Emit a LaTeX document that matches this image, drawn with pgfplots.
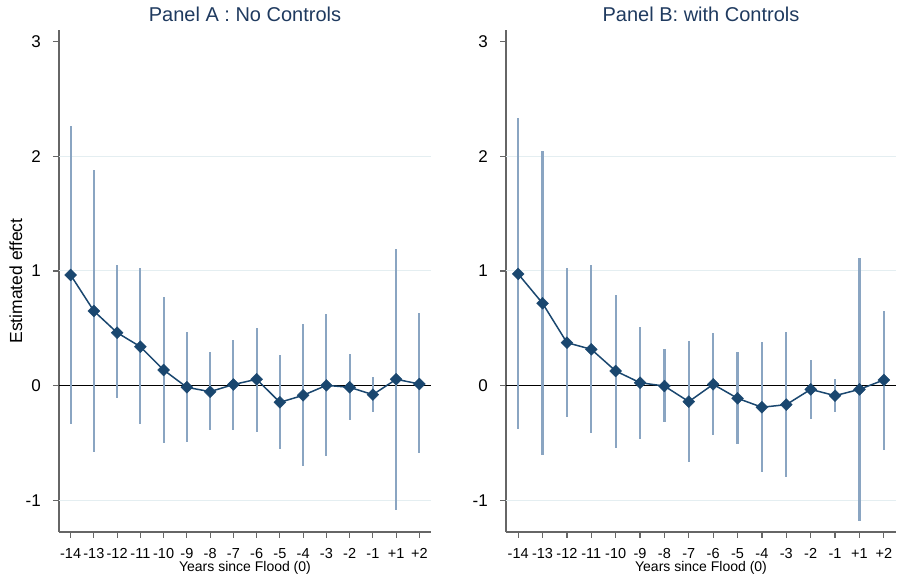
\documentclass[border=0pt]{standalone}
\usepackage{pgfplots}
\pgfplotsset{compat=1.18}
\usepackage{pgfplotstable}
\usepackage{fontspec}
\setmainfont{Liberation Sans}
\definecolor{navy}{HTML}{1A476F}
\definecolor{ciblue}{HTML}{8AA5C2}
\definecolor{gridc}{HTML}{E4EEF1}
\definecolor{axisgray}{HTML}{666666}
\definecolor{titlec}{HTML}{1F3A5F}
\tikzset{gridl/.style={draw=gridc, line width=1pt}}

\pgfplotstableread{
x y lo hi
0 0.965 -0.33 2.26
1 0.651 -0.575 1.88
2 0.462 -0.11 1.05
3 0.34 -0.337 1.03
4 0.137 -0.50 0.776
5 -0.014 -0.49 0.471
6 -0.052 -0.39 0.29
7 0.01 -0.386 0.40
8 0.056 -0.40 0.506
9 -0.145 -0.555 0.268
10 -0.084 -0.697 0.538
11 0.003 -0.613 0.622
12 -0.014 -0.30 0.276
13 -0.078 -0.23 0.073
14 0.056 -1.084 1.195
15 0.015 -0.59 0.63
}\dataA

\pgfplotstableread{
x y lo hi
0 0.974 -0.378 2.33
1 0.718 -0.604 2.046
2 0.375 -0.27 1.023
3 0.317 -0.41 1.052
4 0.128 -0.546 0.79
5 0.026 -0.465 0.515
6 -0.003 -0.32 0.32
7 -0.139 -0.668 0.39
8 0.012 -0.43 0.457
9 -0.11 -0.51 0.29
10 -0.188 -0.755 0.384
11 -0.165 -0.793 0.465
12 -0.032 -0.29 0.224
13 -0.087 -0.23 0.056
14 -0.032 -1.177 1.11
15 0.05 -0.56 0.65
}\dataB

\pgfplotsset{
  evstyle/.style={
    scale only axis, height=502pt,
    xmin=-0.5, xmax=15.5, ymin=-1.275, ymax=3.10,
    axis x line*=bottom, axis y line*=left,
    axis line style={draw=axisgray, line width=1.3pt, -},
    ytick={-1,0,1,2,3}, yticklabels={-1,0,1,2,3},
    xtick={0,...,15},
    xticklabels={{-14},{-13},{-12},{-11},{-10},{-9},{-8},{-7},{-6},{-5},{-4},{-3},{-2},{-1},{+1},{+2}},
    tick align=outside, major tick length=6pt,
    tick style={draw=axisgray, line width=1.2pt},
    yticklabel style={font=\fontsize{17}{20}\selectfont, anchor=east, inner sep=0pt, xshift=-12pt},
    xticklabel style={font=\fontsize{14.5}{17}\selectfont, anchor=base, inner sep=0pt, yshift=-20.2pt},
    title style={font=\fontsize{20}{24}\selectfont, text=titlec, at={(axis description cs:0.5,1)}, anchor=base, yshift=2pt},
    xlabel style={font=\fontsize{14}{17}\selectfont, inner sep=0pt, at={(axis description cs:0.5,0)}, anchor=base, yshift=-40pt},
    xlabel={Years since Flood (0)},
    clip=false,
  },
}

\begin{document}
\begin{tikzpicture}
\path[use as bounding box] (0pt,0pt) rectangle (900pt,580pt);

\begin{axis}[evstyle, width=372pt, at={(59pt,48pt)}, anchor=south west,
  title={Panel A : No Controls},
  ylabel={Estimated effect},
  ylabel style={font=\fontsize{17.5}{20}\selectfont, at={(axis description cs:-0.116,0.5)}, anchor=center}]
  \draw[gridl] (axis cs:-0.5,-1) -- (axis cs:15.5,-1);
  \draw[gridl] (axis cs:-0.5,1) -- (axis cs:15.5,1);
  \draw[gridl] (axis cs:-0.5,2) -- (axis cs:15.5,2);
  \draw[black, line width=1.2pt] (axis cs:-0.5,0) -- (axis cs:15.5,0);
  \addplot[draw=none, mark=none, forget plot,
    error bars/.cd, y dir=both, y explicit, error mark=none,
    error bar style={draw=ciblue, line width=2.2pt}]
    table[x=x, y=y, y error plus expr=\thisrow{hi}-\thisrow{y}, y error minus expr=\thisrow{y}-\thisrow{lo}] {\dataA};
  \addplot[navy, line width=1.5pt, mark=square*, mark size=4.2pt,
    mark options={rotate=45, fill=navy, draw=navy, line width=0.4pt}]
    table[x=x, y=y] {\dataA};
\end{axis}

\begin{axis}[evstyle, width=390pt, at={(506pt,48pt)}, anchor=south west,
  title={Panel B: with Controls}]
  \draw[gridl] (axis cs:-0.5,-1) -- (axis cs:15.5,-1);
  \draw[gridl] (axis cs:-0.5,1) -- (axis cs:15.5,1);
  \draw[gridl] (axis cs:-0.5,2) -- (axis cs:15.5,2);
  \draw[black, line width=1.2pt] (axis cs:-0.5,0) -- (axis cs:15.5,0);
  \addplot[draw=none, mark=none, forget plot,
    error bars/.cd, y dir=both, y explicit, error mark=none,
    error bar style={draw=ciblue, line width=2.2pt}]
    table[x=x, y=y, y error plus expr=\thisrow{hi}-\thisrow{y}, y error minus expr=\thisrow{y}-\thisrow{lo}] {\dataB};
  \addplot[navy, line width=1.5pt, mark=square*, mark size=4.2pt,
    mark options={rotate=45, fill=navy, draw=navy, line width=0.4pt}]
    table[x=x, y=y] {\dataB};
\end{axis}
\end{tikzpicture}
\end{document}
